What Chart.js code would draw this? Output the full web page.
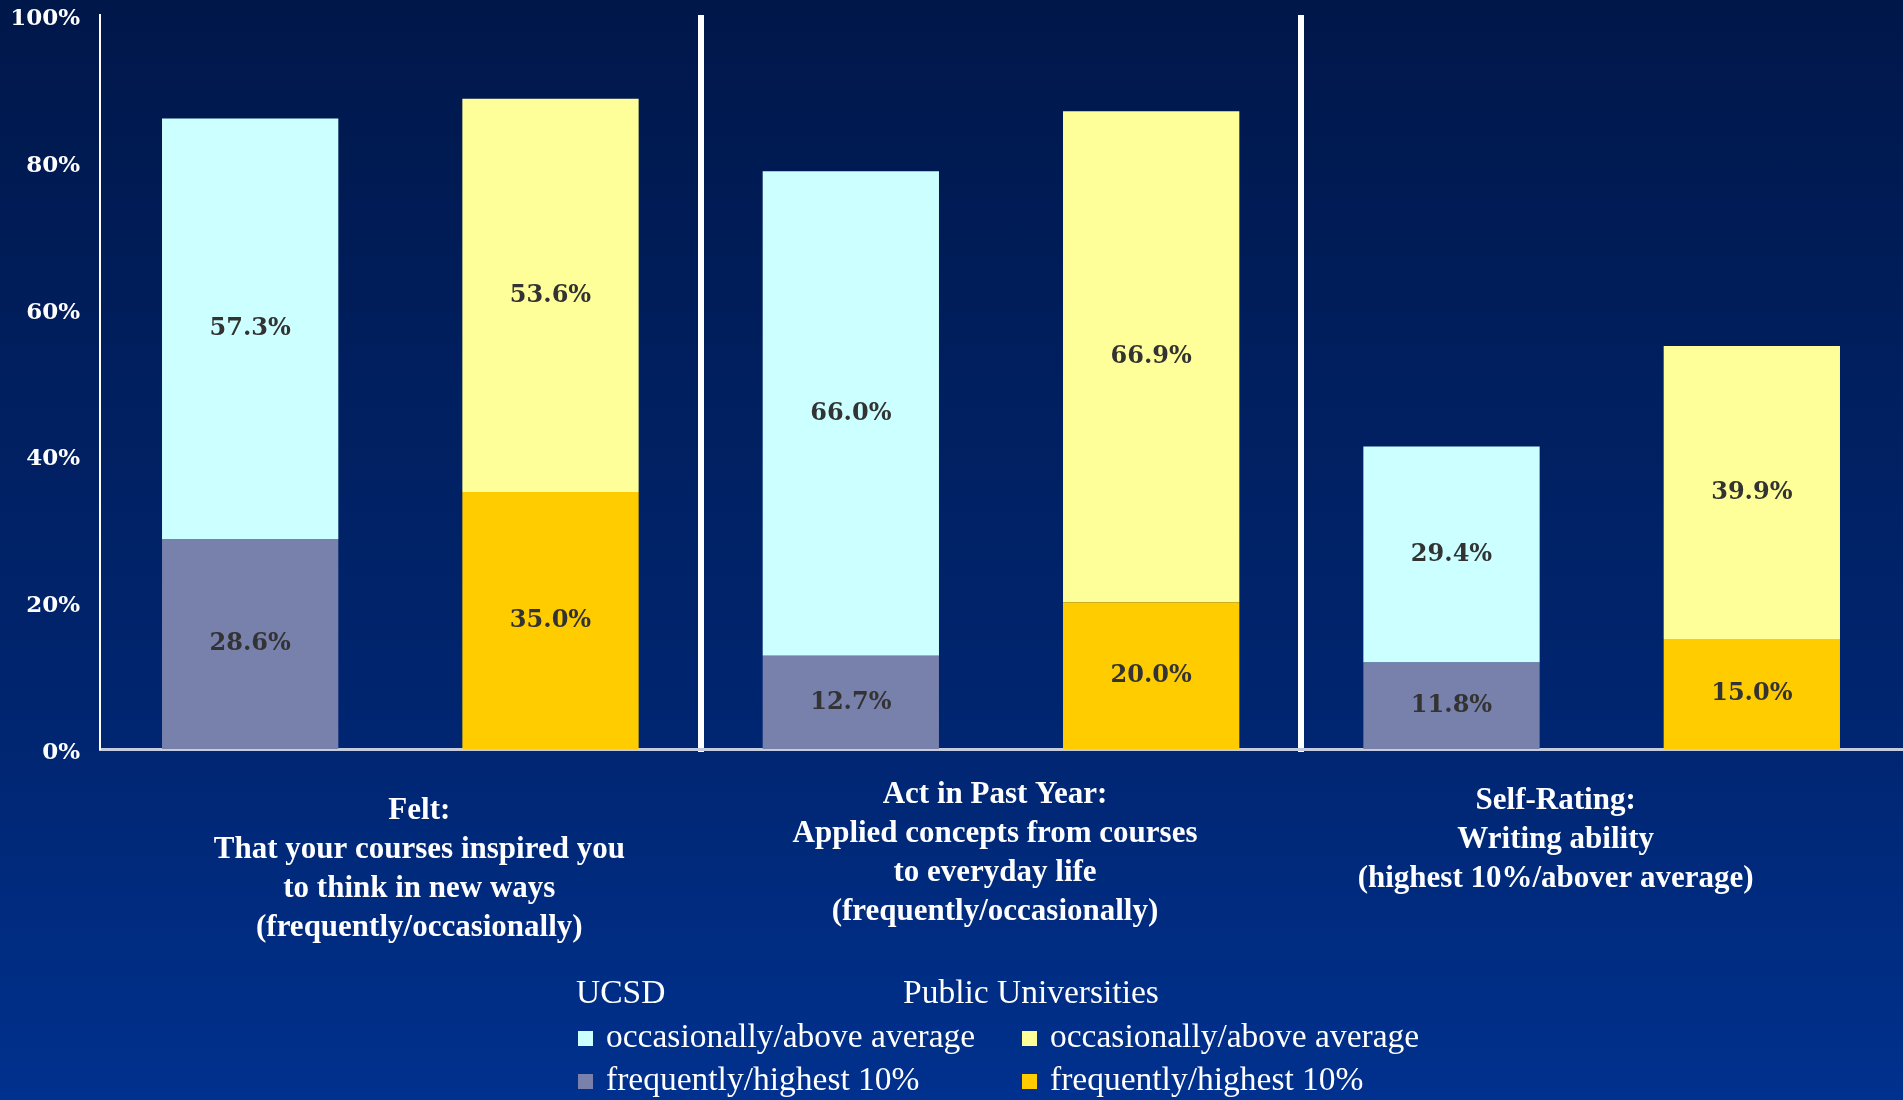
<!DOCTYPE html>
<html>
<head>
<meta charset="utf-8">
<script src="https://cdn.jsdelivr.net/npm/chart.js@4/dist/chart.umd.min.js"></script>
<style>
  html, body { margin: 0; padding: 0; }
  body {
    width: 1903px;
    height: 1100px;
    overflow: hidden;
    background: linear-gradient(to bottom, #00174a 0%, #001e5c 30%, #002672 68%, #00318e 100%);
  }
  #chart { display: block; }
</style>
</head>
<body>
<canvas id="chart" width="1903" height="1100"></canvas>
<script>
// Survey items along the x axis (one line per array entry)
const categories = [
  ["Felt:", "That your courses inspired you", "to think in new ways", "(frequently/occasionally)"],
  ["Act in Past Year:", "Applied concepts from courses", "to everyday life", "(frequently/occasionally)"],
  ["Self-Rating:", "Writing ability", "(highest 10%/abover average)"],
];

// Percent of respondents, stacked per group
const ucsdFrequent = [28.6, 12.7, 11.8];
const ucsdOccasional = [57.3, 66.0, 29.4];
const publicFrequent = [35.0, 20.0, 15.0];
const publicOccasional = [53.6, 66.9, 39.9];

const yTicks = [0, 20, 40, 60, 80, 100];

const legendGroups = ["UCSD", "Public Universities"];
const legendItems = ["occasionally/above average", "frequently/highest 10%"];

// text layout for the category captions and the legend
const captionShift = [19, -6, -46];
const captionTop = [811, 795, 801];
const captionLineHeight = 39;
const legendHeadX = [576, 903];
const legendSwatchX = [578, 1022];
const legendRows = [994, 1038, 1081];

const datasets = [
  { label: "UCSD frequently/highest 10%", data: ucsdFrequent, backgroundColor: "#7880ac", stack: "ucsd" },
  { label: "UCSD occasionally/above average", data: ucsdOccasional, backgroundColor: "#ccffff", stack: "ucsd" },
  { label: "Public frequently/highest 10%", data: publicFrequent, backgroundColor: "#ffcc00", stack: "public" },
  { label: "Public occasionally/above average", data: publicOccasional, backgroundColor: "#ffff99", stack: "public" },
];

// value text in the middle of every bar segment
const segmentLabels = {
  id: "segmentLabels",
  afterDatasetsDraw(chart) {
    const ctx = chart.ctx;
    ctx.save();
    ctx.font = "bold 24px 'DejaVu Serif'";
    ctx.fillStyle = "#333333";
    ctx.textAlign = "center";
    ctx.textBaseline = "middle";
    chart.data.datasets.forEach((ds, di) => {
      chart.getDatasetMeta(di).data.forEach((bar, i) => {
        const p = bar.getCenterPoint();
        ctx.fillText(ds.data[i].toFixed(1) + "%", p.x, p.y);
      });
    });
    ctx.restore();
  },
};

// multi-line captions under each category
const categoryCaptions = {
  id: "categoryCaptions",
  afterDraw(chart) {
    const ctx = chart.ctx;
    const x = chart.scales.x;
    ctx.save();
    ctx.font = "bold 31px 'Liberation Serif'";
    ctx.fillStyle = "#ffffff";
    ctx.textAlign = "center";
    ctx.textBaseline = "middle";
    categories.forEach((lines, i) => {
      const cx = x.getPixelForValue(i) + captionShift[i];
      lines.forEach((line, j) => {
        ctx.fillText(line, cx, captionTop[i] + j * captionLineHeight);
      });
    });
    ctx.restore();
  },
};

// two-column legend: UCSD on the left, public universities on the right
const groupLegend = {
  id: "groupLegend",
  afterDraw(chart) {
    const ctx = chart.ctx;
    const ds = chart.data.datasets;
    const swatches = [
      [ds[1].backgroundColor, ds[0].backgroundColor],
      [ds[3].backgroundColor, ds[2].backgroundColor],
    ];
    ctx.save();
    ctx.font = "33.5px 'Liberation Serif'";
    ctx.textAlign = "left";
    ctx.textBaseline = "middle";
    legendGroups.forEach((g, c) => {
      ctx.fillStyle = "#ffffff";
      ctx.fillText(g, legendHeadX[c], legendRows[0]);
      legendItems.forEach((item, r) => {
        const y = legendRows[r + 1];
        ctx.fillStyle = swatches[c][r];
        ctx.fillRect(legendSwatchX[c], y - 7, 15, 15);
        ctx.fillStyle = "#ffffff";
        ctx.fillText(item, legendSwatchX[c] + 28, y);
      });
    });
    ctx.restore();
  },
};

new Chart(document.getElementById("chart"), {
  type: "bar",
  data: { labels: categories, datasets: datasets },
  options: {
    responsive: false,
    devicePixelRatio: 1,
    animation: false,
    datasets: { bar: { categoryPercentage: 1.0, barPercentage: 0.587 } },
    layout: { padding: { top: 15, right: 1, left: 0, bottom: 0 } },
    plugins: { legend: { display: false }, tooltip: { enabled: false } },
    scales: {
      x: {
        stacked: true,
        afterFit: (scale) => { scale.height = 351; },
        ticks: { display: false },
        grid: {
          offset: true,
          drawTicks: true,
          tickLength: 3,
          lineWidth: 6,
          color: (c) => (c.index === 1 || c.index === 2 ? "#ffffff" : "rgba(0,0,0,0)"),
        },
        border: { display: true, color: "#c4cce0", width: 3 },
      },
      y: {
        stacked: true,
        min: 0,
        max: 100,
        afterFit: (scale) => {
          scale.width = 100;
          scale.paddingTop = 0;
          scale.paddingBottom = 0;
        },
        afterBuildTicks: (scale) => { scale.ticks = yTicks.map((v) => ({ value: v })); },
        ticks: {
          padding: 20,
          labelOffset: 4,
          color: "#ffffff",
          font: { family: "'DejaVu Serif'", size: 23, weight: "bold" },
          callback: (v) => v + "%",
        },
        grid: { display: false, drawTicks: false },
        border: { display: true, color: "#ffffff", width: 2 },
      },
    },
  },
  plugins: [segmentLabels, categoryCaptions, groupLegend],
});
</script>
</body>
</html>
